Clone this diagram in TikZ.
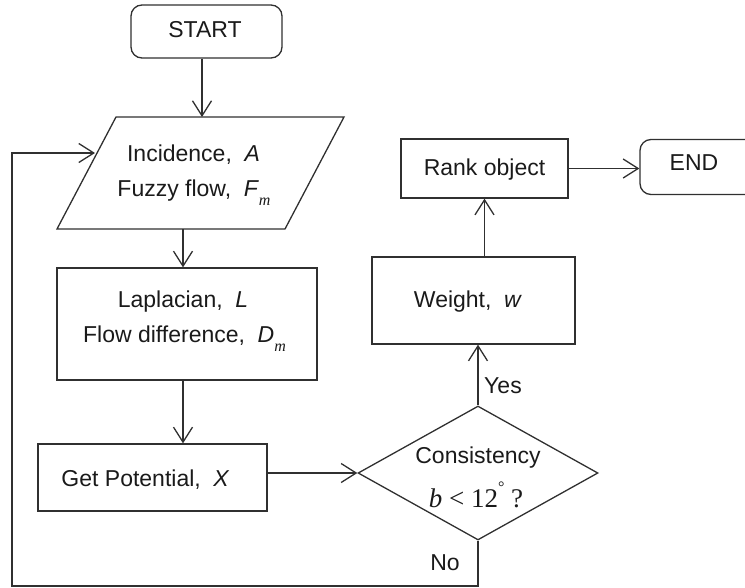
\documentclass[tikz,border=0pt]{standalone}
\usepackage{fontspec}
\setmainfont{Liberation Sans}
\newfontfamily\serifface{Liberation Serif}
\usetikzlibrary{arrows.meta,shapes.geometric,calc}
\definecolor{linec}{HTML}{303030}
\definecolor{textc}{HTML}{1A1A1A}
\newcommand{\subm}{\raisebox{-9pt}{\serifface\itshape\fontsize{16}{16}\selectfont m}}
\tikzset{
  shapeline/.style={draw=linec, line width=1.3pt},
  arr/.style={draw=linec, line width=1.3pt, -{Straight Barb[length=15pt,width=19pt]}},
  procbox/.style={shapeline, rectangle, inner sep=0pt},
  termbox/.style={shapeline, rectangle, rounded corners=11pt, inner sep=0pt},
  decbox/.style={shapeline, diamond, inner sep=0pt},
  txt/.style={text=textc, font=\fontsize{23}{27}\selectfont, inner sep=0pt, anchor=base},
  formula/.style={text=textc, font=\serifface\fontsize{27}{30}\selectfont, inner sep=0pt, anchor=base},
}
\begin{document}
\begin{tikzpicture}[x=1pt,y=-1pt]
\useasboundingbox (0,0) rectangle (745,587);
\clip (0,0) rectangle (745,587);

% shapes
\coordinate (ptl) at (116,117);
\coordinate (ptr) at (344,117);
\coordinate (pbr) at (285,229);
\coordinate (pbl) at (57,229);
\draw[shapeline] (ptl) -- (ptr) -- (pbr) -- (pbl) -- cycle;

\node[termbox, minimum width=151pt, minimum height=53pt] (start) at (206.5,31.5) {};
\node[procbox, minimum width=260pt, minimum height=112pt] (lap) at (187,324) {};
\node[procbox, minimum width=229pt, minimum height=67pt] (gp) at (152.5,477.5) {};
\node[decbox, minimum width=240pt, minimum height=134pt] (dia) at (478,473) {};
\node[procbox, minimum width=203pt, minimum height=87pt] (weight) at (473.5,300.5) {};
\node[procbox, minimum width=167pt, minimum height=59pt] (rank) at (484.5,168.5) {};
\node[termbox, minimum width=130pt, minimum height=55pt] (end) at (705,167) {};

% texts
\node[txt] (tstart) at (205,37.5) {START};
\node[txt] (tinc) at (193.5,161) {Incidence,\hspace{0.55em}\textit{A}};
\node[txt] (tfuz) at (194,196) {Fuzzy flow,\hspace{0.55em}\textit{F}\subm};
\node[txt] (tlap) at (183,307) {Laplacian,\hspace{0.55em}\textit{L}};
\node[txt] (tflow) at (184.5,342) {Flow difference,\hspace{0.55em}\textit{D}\subm};
\node[txt] (tgp) at (145.5,486) {Get Potential,\hspace{0.55em}\textit{X}};
\node[txt] (tcon) at (478,463) {Consistency};
\node[formula] (tform) at (476,507) {\textit{b} < 12\raisebox{15pt}{\fontsize{16}{16}\selectfont °} ?};
\node[txt] (tweight) at (468,307) {Weight,\hspace{0.55em}\textit{w}};
\node[txt] (trank) at (484.5,175) {Rank object};
\node[txt] (tend) at (694,170) {END};
\node[txt] (tyes) at (503,393) {Yes};
\node[txt] (tno) at (445,570) {No};

% connectors
\coordinate (s1) at ([xshift=-4.5pt]start.south);
\coordinate (a1) at (183,229);
\coordinate (lb) at (12,586);
\coordinate (pin) at (95,153);
\draw[arr] (s1) -- (s1 |- ptl);
\draw[arr] (a1) -- (a1 |- lap.north);
\draw[arr] (a1 |- lap.south) -- (a1 |- gp.north);
\draw[arr] (dia.west -| gp.east) -- (dia.west);
\draw[arr] (dia.north) -- (dia.north |- weight.south);
\draw[arr] (rank.south |- weight.north) -- (rank.south);
\draw[arr] (rank.east) -- (rank.east -| end.west);
\draw[arr] (dia.south) |- (lb) |- (pin);
\end{tikzpicture}
\end{document}
